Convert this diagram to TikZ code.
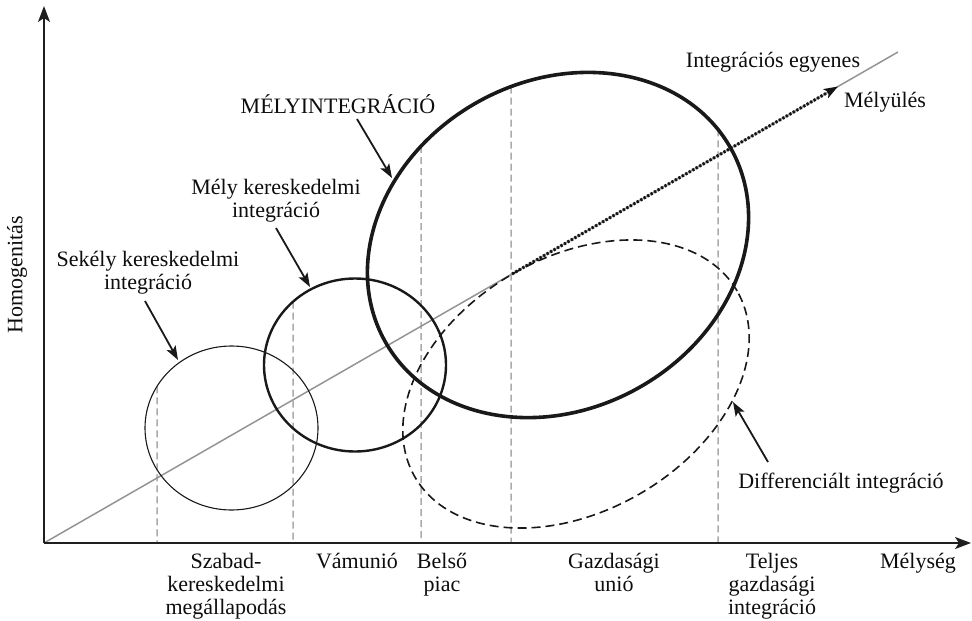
\documentclass[tikz,border=0pt]{standalone}
\usepackage{fontspec}
\setmainfont{Liberation Serif}
\usetikzlibrary{arrows.meta,intersections,backgrounds}
\begin{document}
\begin{tikzpicture}[x=1pt,y=-1pt,
  lbl/.style={font=\fontsize{22}{23}\selectfont, inner sep=0pt, align=center, text=black!95},
  axisline/.style={line width=1.8pt, draw=black!88, -{Stealth[length=16pt,width=12pt,inset=4pt]}},
  pointer/.style={line width=1.8pt, draw=black!90, -{Stealth[length=14pt,width=10pt,inset=3pt]}},
  guide/.style={draw=black!33, line width=1.5pt, dash pattern=on 7pt off 4pt},
  integline/.style={draw=black!42, line width=1.5pt},
  deepening/.style={draw=black!92, line width=3pt, dash pattern=on 2.2pt off 1.8pt, -{Stealth[length=14pt,width=10pt,inset=3pt]}},
  thinring/.style={draw=black!90, line width=1.1pt},
  midring/.style={draw=black!90, line width=2.4pt},
  bigring/.style={draw=black!90, line width=3.6pt},
  dashring/.style={draw=black!90, line width=1.6pt, dash pattern=on 9pt off 5pt}
]
\useasboundingbox (0,0) rectangle (972,621);

% axes and line coordinates
\coordinate (O) at (44,543);
\coordinate (ytip) at (44,6);
\coordinate (xtip) at (971,543);
\coordinate (lineend) at (898,52);
\coordinate (dA) at (512,274);
\coordinate (dB) at (838,86.5);

% shapes
\draw[thinring, name path=c1] (231.5,428) ellipse [x radius=86.5pt, y radius=82pt];
\draw[midring, name path=c2] (355,365) ellipse [x radius=91pt, y radius=86.5pt];
\draw[bigring, name path=big, shift={(558,245)}, rotate=29] (0,0) ellipse [x radius=198pt, y radius=164pt];
\draw[dashring, shift={(576,384)}, rotate=30] (0,0) ellipse [x radius=186pt, y radius=127pt];

% vertical guides (behind)
\path[name path=g1] (157,0) -- (157,543);
\path[name path=g2] (293,0) -- (293,543);
\path[name path=g3] (421,0) -- (421,543);
\path[name path=g4] (511,0) -- (511,543);
\path[name path=g5] (718,0) -- (718,543);
\path[name intersections={of=c1 and g1, sort by=g1, by={t1}}];
\path[name intersections={of=c2 and g2, sort by=g2, by={t2}}];
\path[name intersections={of=big and g3, sort by=g3, by={t3}}];
\path[name intersections={of=big and g4, sort by=g4, by={t4}}];
\path[name intersections={of=big and g5, sort by=g5, by={t5}}];
\coordinate (b1) at (157,543);
\coordinate (b2) at (293,543);
\coordinate (b3) at (421,543);
\coordinate (b4) at (511,543);
\coordinate (b5) at (718,543);
\begin{pgfonlayer}{background}
  \draw[guide] (t1) -- (b1);
  \draw[guide] (t2) -- (b2);
  \draw[guide] (t3) -- (b3);
  \draw[guide] (t4) -- (b4);
  \draw[guide] (t5) -- (b5);
  \draw[integline] (O) -- (lineend);
\end{pgfonlayer}

% deepening arrow
\draw[deepening] (dA) -- (dB);

% axes
\draw[axisline] (O) -- (ytip);
\draw[axisline] (O) -- (xtip);

% labels
\node[lbl, rotate=90] (hom) at (17,275) {Homogenitás};
\node[lbl, anchor=north] (sek) at (148,251) {Sekély kereskedelmi\\integráció};
\node[lbl, anchor=north] (melyk) at (276,179) {Mély kereskedelmi\\integráció};
\node[lbl, anchor=base] (mint) at (338,113) {MÉLYINTEGRÁCIÓ};
\node[lbl, anchor=base] (ie) at (773,67) {Integrációs egyenes};
\node[lbl, anchor=base] (mu) at (885,107) {Mélyülés};
\node[lbl, anchor=base] (diff) at (841,488) {Differenciált integráció};

\node[lbl, anchor=north] (l1) at (226,553) {Szabad-\\kereskedelmi\\megállapodás};
\node[lbl, anchor=north] (l2) at (357,553) {Vámunió};
\node[lbl, anchor=north] (l3) at (442,553) {Belső\\piac};
\node[lbl, anchor=north] (l4) at (614,553) {Gazdasági\\unió};
\node[lbl, anchor=north] (l5) at (772,553) {Teljes\\gazdasági\\integráció};
\node[lbl, anchor=north] (l6) at (918,553) {Mélység};

% pointers
\coordinate (sekS) at (145,301);
\coordinate (sekT) at (178,360);
\coordinate (melykS) at (276,228);
\coordinate (melykT) at (310,287);
\coordinate (mintS) at (357,119);
\coordinate (mintT) at (392,178);
\coordinate (diffS) at (768,462);
\coordinate (diffT) at (733,402);
\draw[pointer] (sekS) -- (sekT);
\draw[pointer] (melykS) -- (melykT);
\draw[pointer] (mintS) -- (mintT);
\draw[pointer] (diffS) -- (diffT);
\end{tikzpicture}
\end{document}
